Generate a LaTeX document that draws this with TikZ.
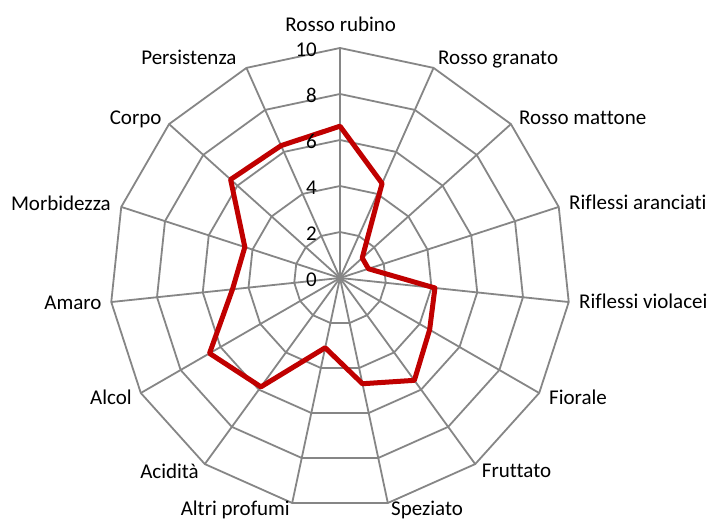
\documentclass[tikz,border=0pt]{standalone}
\usepackage{fontspec}
\setmainfont{Carlito}[Ligatures=NoCommon]
\definecolor{gridgray}{HTML}{868686}
\definecolor{datared}{HTML}{C00000}
\tikzset{
  gridline/.style={draw=gridgray, line width=1.8pt},
  valueaxis/.style={draw=gridgray, line width=2.2pt},
  dataline/.style={draw=datared, line width=5pt, line join=round},
  lbl/.style={inner sep=0pt, text height=13.5pt, text depth=0pt, font=\fontsize{21}{25}\selectfont},
}
\begin{document}
\begin{tikzpicture}[x=1pt,y=1pt]
\useasboundingbox[fill=white] (-340,-243) rectangle (368,278);
\coordinate (c) at (0,0);
% rings
\foreach \v in {2,4,6,8,10}{
  \draw[gridline] (90:{\v*23}) \foreach \k in {1,...,14}{ -- ({90-24*\k}:{\v*23}) } -- cycle;
}
% spokes
\foreach \k in {1,...,14}{
  \coordinate (s\k) at ({90-24*\k}:230);
  \draw[gridline] (c) -- (s\k);
}
\coordinate (s0) at (90:230);
\draw[valueaxis] (c) -- (s0);
% data
\foreach \v [count=\i from 0] in {6.6,4.5,1.3,1.3,4.15,4.5,5.5,4.7,3.1,5.85,6.55,4.7,4.35,6.4,6.3}{
  \coordinate (p\i) at ({90-24*\i}:{\v*23});
}
\draw[dataline] (p0) -- (p1) -- (p2) -- (p3) -- (p4) -- (p5) -- (p6) -- (p7) -- (p8) -- (p9) -- (p10) -- (p11) -- (p12) -- (p13) -- (p14) -- cycle;
% tick labels
\foreach \v in {0,2,4,6,8,10}{
  \node[lbl, anchor=east] (t\v) at (-23,{\v*23-1.5}) {\v};
}
% category labels
\node[lbl, anchor=center] (l0) at (0.8,253.5) {Rosso rubino};
\node[lbl, anchor=west] (l1) at (98,220) {Rosso granato};
\node[lbl, anchor=west] (l2) at (179,160.3) {Rosso mattone};
\node[lbl, anchor=west] (l3) at (229,75) {Riflessi aranciati};
\node[lbl, anchor=west] (l4) at (239,-23.7) {Riflessi violacei};
\node[lbl, anchor=west] (l5) at (209,-119.7) {Fiorale};
\node[lbl, anchor=west] (l6) at (141.7,-192.7) {Fruttato};
\node[lbl, anchor=west] (l7) at (51,-231) {Speziato};
\node[lbl, anchor=east] (l8) at (-50,-231) {Altri profumi};
\node[lbl, anchor=east] (l9) at (-141,-193.7) {Acidità};
\node[lbl, anchor=east] (l10) at (-208,-120) {Alcol};
\node[lbl, anchor=east] (l11) at (-238.3,-24.7) {Amaro};
\node[lbl, anchor=east] (l12) at (-229,74) {Morbidezza};
\node[lbl, anchor=east] (l13) at (-178.3,160) {Corpo};
\node[lbl, anchor=east] (l14) at (-103.3,220) {Persistenza};
\end{tikzpicture}
\end{document}
